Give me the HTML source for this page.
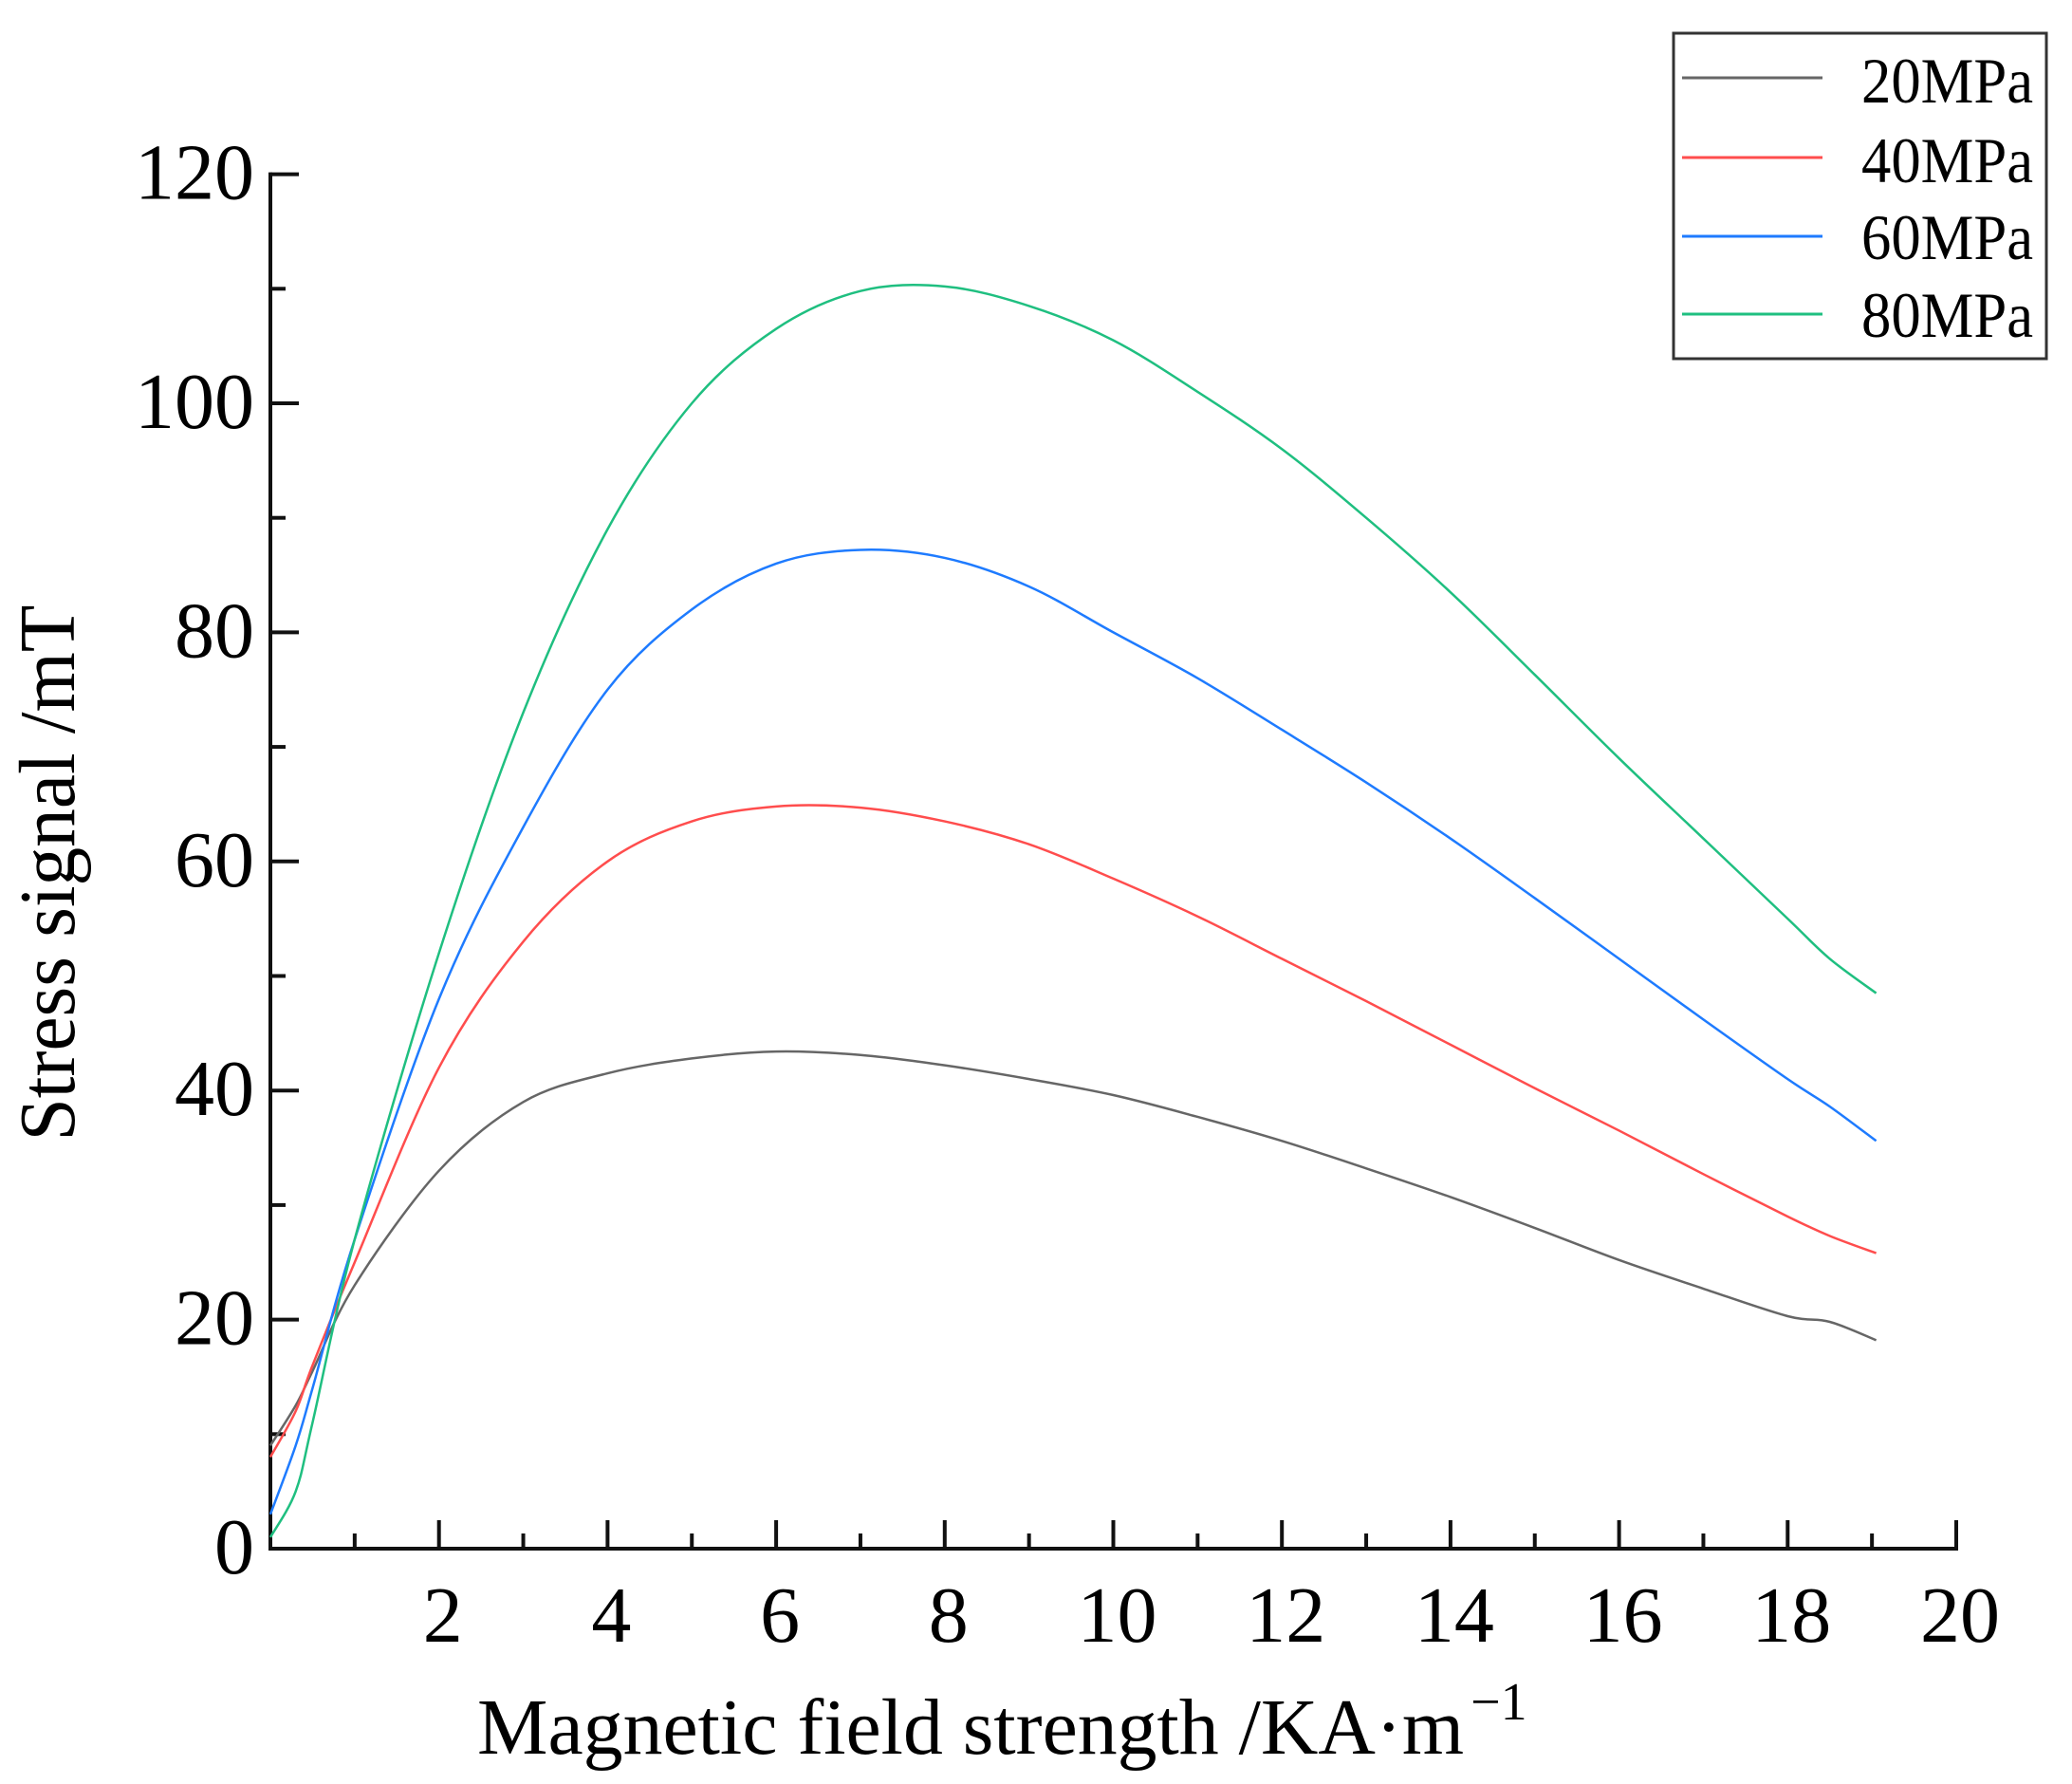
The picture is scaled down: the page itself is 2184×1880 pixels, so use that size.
<!DOCTYPE html>
<html><head><meta charset="utf-8"><style>
html,body{margin:0;padding:0;background:#fff;}
svg{display:block;font-family:"Liberation Serif",serif;}
</style></head><body>
<svg id="chart" width="2184" height="1880" viewBox="0 0 2184 1880">
<g id="axes"></g>
<g id="series"></g>
<text transform="translate(78,920) rotate(-90)" text-anchor="middle" font-size="84" textLength="565" lengthAdjust="spacingAndGlyphs">Stress signal /mT</text>
<text x="503" y="1848" font-size="84" textLength="1040" lengthAdjust="spacingAndGlyphs">Magnetic field strength /KA·m</text>
<text x="1550" y="1812" font-size="56">−1</text>
<g>
<rect x="1764" y="35" width="393" height="343" fill="#fff" stroke="#333" stroke-width="3"/>
<line x1="1773" y1="82" x2="1921" y2="82" stroke="#666" stroke-width="3"/>
<text x="1962" y="108" font-size="68" textLength="181" lengthAdjust="spacingAndGlyphs">20MPa</text>
<line x1="1773" y1="166" x2="1921" y2="166" stroke="#ff4d4d" stroke-width="3"/>
<text x="1962" y="192" font-size="68" textLength="181" lengthAdjust="spacingAndGlyphs">40MPa</text>
<line x1="1773" y1="249" x2="1921" y2="249" stroke="#1e7bff" stroke-width="3"/>
<text x="1962" y="273" font-size="68" textLength="181" lengthAdjust="spacingAndGlyphs">60MPa</text>
<line x1="1773" y1="331" x2="1921" y2="331" stroke="#1fbf80" stroke-width="3"/>
<text x="1962" y="355" font-size="68" textLength="181" lengthAdjust="spacingAndGlyphs">80MPa</text>
</g>
</svg>
<script>
const xVals = [0, 0.3, 0.5, 1, 2, 3, 4, 5, 6, 7, 8, 9, 10, 11, 12, 13, 14, 15, 16, 17, 18, 18.5, 19.05];
const s20 = [9, 12.5, 15.5, 23, 33, 39, 41.5, 42.8, 43.4, 43.1, 42.2, 41, 39.6, 37.7, 35.6, 33.2, 30.7, 28, 25.2, 22.7, 20.3, 19.8, 18.2];
const s40 = [8, 12, 16, 25, 42, 53, 60, 63.5, 64.8, 64.7, 63.5, 61.5, 58.5, 55.2, 51.5, 47.8, 44, 40.2, 36.5, 32.7, 29, 27.3, 25.8];
const s60 = [3, 9, 14, 27, 48, 63, 75, 82, 86, 87.2, 86.5, 84, 80, 76, 71.5, 66.9, 62, 56.8, 51.5, 46.2, 41, 38.6, 35.6];
const s80 = [1, 5, 11, 27, 52, 73, 89, 100, 106.5, 109.8, 110.2, 108.5, 105.5, 101, 96, 90, 83.5, 76.3, 69, 62, 55, 51.5, 48.5];
const seriesNames = ["20mpa", "40mpa", "60mpa", "80mpa"];
const seriesColors = ["#666666", "#ff4d4d", "#1e7bff", "#1fbf80"];
const xTicks = [2, 4, 6, 8, 10, 12, 14, 16, 18, 20];
const yTicks = [0, 20, 40, 60, 80, 100, 120];

const X0 = 285, XS = 88.85, Y0 = 1632, YS = 12.07;
function sx(v){ return X0 + v * XS; }
function sy(v){ return Y0 - v * YS; }
const NS = "http://www.w3.org/2000/svg";
const axes = document.getElementById('axes');
const seriesG = document.getElementById('series');
function mk(tag, attrs, parent){
  const e = document.createElementNS(NS, tag);
  for (const k in attrs) e.setAttribute(k, attrs[k]);
  parent.appendChild(e);
  return e;
}
let ax = mk('path', {d:`M${sx(0)},${sy(120)-2} V${sy(0)} H${sx(20)+2}`, fill:'none', stroke:'#111', 'stroke-width':4}, axes);


for (let v = 10; v <= 120; v += 10) {
  const major = v % 20 === 0;
  const t = mk('line', {x1:sx(0), x2:sx(0) + (major ? 30 : 16), y1:sy(v), y2:sy(v), stroke:'#111', 'stroke-width':4}, axes);
  
  
}
for (let v = 1; v <= 20; v += 1) {
  const major = v % 2 === 0;
  const t = mk('line', {x1:sx(v), x2:sx(v), y1:sy(0), y2:sy(0) - (major ? 30 : 16), stroke:'#111', 'stroke-width':4}, axes);
  
  
}
yTicks.forEach(v => {
  const t = mk('text', {x:268, y:sy(v) + 26, 'text-anchor':'end', 'font-size':84}, axes);
  t.textContent = String(v);
  
  
});
xTicks.forEach(v => {
  const t = mk('text', {x:sx(v) + 4, y:1730, 'text-anchor':'middle', 'font-size':84}, axes);
  t.textContent = String(v);
  
  
});
function smoothPath(xs, ys){
  const p = xs.map((x, i) => [sx(x), sy(ys[i])]);
  let d = `M${p[0][0]},${p[0][1]}`;
  for (let i = 0; i < p.length - 1; i++) {
    const p0 = p[Math.max(0, i-1)], p1 = p[i], p2 = p[i+1], p3 = p[Math.min(p.length-1, i+2)];
    const c1 = [p1[0] + (p2[0]-p0[0])/6, p1[1] + (p2[1]-p0[1])/6];
    const c2 = [p2[0] - (p3[0]-p1[0])/6, p2[1] - (p3[1]-p1[1])/6];
    d += ` C${c1[0]},${c1[1]} ${c2[0]},${c2[1]} ${p2[0]},${p2[1]}`;
  }
  return d;
}
[s20, s40, s60, s80].forEach((s, i) => {
  const l = mk('path', {d:smoothPath(xVals, s), fill:'none', stroke:seriesColors[i], 'stroke-width':2.5}, seriesG);
  
  
});
</script>
</body></html>
